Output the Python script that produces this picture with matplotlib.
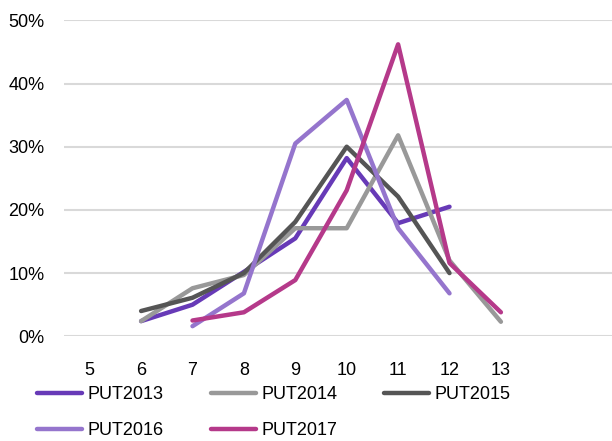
import matplotlib
matplotlib.use("Agg")
import matplotlib.pyplot as plt
from matplotlib.ticker import FuncFormatter

# values (share of total per category)
cats = [5, 6, 7, 8, 9, 10, 11, 12, 13]
put2013 = [None, 0.024, 0.050, 0.102, 0.155, 0.282, 0.179, 0.205, None]
put2014 = [None, 0.024, 0.076, 0.097, 0.171, 0.171, 0.318, 0.120, 0.023]
put2015 = [None, 0.040, 0.061, 0.100, 0.181, 0.300, 0.221, 0.100, None]
put2016 = [None, None, 0.016, 0.068, 0.305, 0.374, 0.171, 0.068, None]
put2017 = [None, None, 0.025, 0.038, 0.089, 0.231, 0.462, 0.116, 0.038]

series_names = ["PUT2013", "PUT2014", "PUT2015", "PUT2016", "PUT2017"]
series_vals = [put2013, put2014, put2015, put2016, put2017]
colors = ["#673ab7", "#999999", "#555555", "#9575cd", "#b5398a"]

plt.rcParams['font.family'] = ['Liberation Sans', 'DejaVu Sans']

W, H = 612, 441
fig = plt.figure(figsize=(W / 100, H / 100), dpi=100)

# plot area: left at 64px, 0% at y=336, 50% at y=20; runs off the right edge
left = 64 / W
bottom = (H - 336.3) / H
top = (H - 20.3) / H
ax = fig.add_axes([left, bottom, 1 - left, top - bottom])

step = 51.4  # px per category
ax.set_xlim(4.5, 4.5 + (W - 64) / step)
ax.set_ylim(0, 0.5)

handles = []
for name, vals, c in zip(series_names, series_vals, colors):
    xs = [x for x, v in zip(cats, vals) if v is not None]
    ys = [v for v in vals if v is not None]
    ln, = ax.plot(xs, ys, color=c, lw=3.2, label=name,
                  solid_capstyle='round', solid_joinstyle='round', clip_on=False)
    handles.append(ln)

ax.set_xticks(cats)
ax.set_xticklabels([str(c) for c in cats])
ax.set_yticks([0, 0.1, 0.2, 0.3, 0.4, 0.5])
ax.yaxis.set_major_formatter(FuncFormatter(lambda v, p: f"{v*100:.0f}%"))
ax.yaxis.grid(True, color="#d9d9d9", lw=1.5)
ax.set_axisbelow(True)
for s in ax.spines.values():
    s.set_visible(False)
ax.tick_params(axis='both', length=0, labelsize=13, colors="#000000")
ax.tick_params(axis='x', pad=18.5)
ax.tick_params(axis='y', pad=14)

# legend filled row by row: reorder for matplotlib's column-major filling
order = [0, 3, 1, 4, 2]
fig.legend([handles[i] for i in order], [series_names[i] for i in order],
           ncol=3, loc='upper left', bbox_to_anchor=(37 / W, 1 - 386 / H),
           frameon=False, fontsize=13, handlelength=2.5, handletextpad=0.3,
           columnspacing=2.6, labelspacing=1.05, borderpad=0, borderaxespad=0)

fig.savefig("out.png", dpi=100)
